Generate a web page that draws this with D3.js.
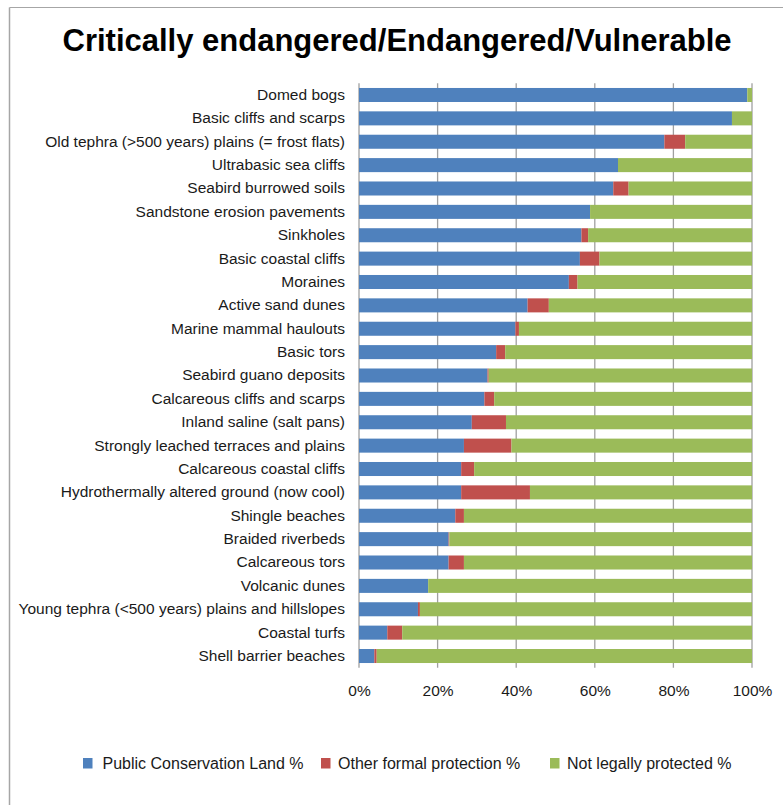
<!DOCTYPE html>
<html>
<head>
<meta charset="utf-8">
<script src="https://cdn.jsdelivr.net/npm/d3@7"></script>
<style>
  html, body { margin: 0; padding: 0; background: #fff; }
  svg { display: block; font-family: "Liberation Sans", Arial, Helvetica, sans-serif; }
</style>
</head>
<body>
<svg id="chart" width="783" height="805"></svg>
<script>
// Ecosystem categories, top to bottom
const categories = [
  "Domed bogs",
  "Basic cliffs and scarps",
  "Old tephra (>500 years) plains (= frost flats)",
  "Ultrabasic sea cliffs",
  "Seabird burrowed soils",
  "Sandstone erosion pavements",
  "Sinkholes",
  "Basic coastal cliffs",
  "Moraines",
  "Active sand dunes",
  "Marine mammal haulouts",
  "Basic tors",
  "Seabird guano deposits",
  "Calcareous cliffs and scarps",
  "Inland saline (salt pans)",
  "Strongly leached terraces and plains",
  "Calcareous coastal cliffs",
  "Hydrothermally altered ground (now cool)",
  "Shingle beaches",
  "Braided riverbeds",
  "Calcareous tors",
  "Volcanic dunes",
  "Young tephra (<500 years) plains and hillslopes",
  "Coastal turfs",
  "Shell barrier beaches"
];

// Share of each ecosystem's extent (%)
const publicConservation = [98.8, 94.9, 77.7, 65.9, 64.7, 58.8, 56.6, 56.2, 53.4, 42.9, 39.8, 34.9, 32.7, 31.9, 28.7, 26.7, 26.0, 26.0, 24.5, 22.8, 22.8, 17.6, 15.0, 7.2, 3.9];
const otherFormal        = [0.0, 0.0, 5.3, 0.0, 3.9, 0.0, 1.7, 5.0, 2.2, 5.4, 0.9, 2.3, 0.3, 2.5, 8.7, 12.1, 3.3, 17.5, 2.2, 0.2, 3.9, 0.0, 0.5, 3.8, 0.6];
const notProtected       = publicConservation.map((v, i) => 100 - v - otherFormal[i]);

const seriesNames  = ["Public Conservation Land %", "Other formal protection %", "Not legally protected %"];
const seriesColors = ["#4f81bd", "#c0504d", "#9bbb59"];
const xTicks = [0, 20, 40, 60, 80, 100];

const svg = d3.select("#chart");

// frame lines
svg.append("line").attr("x1", 9.5).attr("x2", 783).attr("y1", 7.5).attr("y2", 7.5)
  .attr("stroke", "#a6a6a6").attr("stroke-width", 1);
svg.append("line").attr("x1", 9.5).attr("x2", 9.5).attr("y1", 7.5).attr("y2", 805)
  .attr("stroke", "#a6a6a6").attr("stroke-width", 1.5);

// title
svg.append("text")
  .attr("x", 397).attr("y", 51)
  .attr("text-anchor", "middle")
  .attr("font-size", 31).attr("font-weight", "bold")
  .attr("fill", "#000")
  .text("Critically endangered/Endangered/Vulnerable");

const margin = { left: 359, right: 752, top: 83.3, bottom: 667.7 };

const x = d3.scaleLinear().domain([0, 100]).range([margin.left, margin.right]);
const y = d3.scaleBand().domain(categories).range([margin.top, margin.bottom]).paddingInner(0.4).paddingOuter(0.2);

// grid lines
svg.append("g").selectAll("line").data(xTicks).join("line")
  .attr("x1", d => x(d) ).attr("x2", d => x(d))
  .attr("y1", margin.top).attr("y2", margin.bottom)
  .attr("stroke", "#a0a0a0").attr("stroke-width", 1.3);

// stacked data
const rows = categories.map((c, i) => ({
  cat: c,
  s0: publicConservation[i],
  s1: otherFormal[i],
  s2: notProtected[i]
}));
const stack = d3.stack().keys(["s0", "s1", "s2"]);
const layers = stack(rows);

svg.append("g").selectAll("g").data(layers).join("g")
  .attr("fill", (d, i) => seriesColors[i])
  .selectAll("rect").data(d => d).join("rect")
  .attr("x", d => x(d[0]))
  .attr("width", d => Math.max(0, x(d[1]) - x(d[0])))
  .attr("y", d => y(d.data.cat))
  .attr("height", y.bandwidth());

// category axis
const yAxis = svg.append("g")
  .attr("transform", `translate(${margin.left},0)`)
  .call(d3.axisLeft(y).tickSize(0).tickPadding(14));
yAxis.select(".domain").remove();
yAxis.selectAll("text")
  .attr("font-size", 15.5).attr("fill", "#1a1a1a")
  .attr("font-family", "'Liberation Sans', Arial, sans-serif");

// value axis
const xAxis = svg.append("g")
  .attr("transform", `translate(0,${margin.bottom})`)
  .call(d3.axisBottom(x).tickValues(xTicks).tickFormat(d => d + "%").tickSize(0).tickPadding(17));
xAxis.select(".domain").remove();
xAxis.selectAll("text")
  .attr("font-size", 15.5).attr("fill", "#1a1a1a")
  .attr("font-family", "'Liberation Sans', Arial, sans-serif");

// legend
const legendX = [83, 321, 550];
const legend = svg.append("g").selectAll("g").data(seriesNames).join("g")
  .attr("transform", (d, i) => `translate(${legendX[i]},758)`);
legend.append("rect").attr("width", 9.5).attr("height", 10.5)
  .attr("fill", (d, i) => seriesColors[i]);
legend.append("text")
  .attr("x", (d, i) => i === 0 ? 19.5 : 17)
  .attr("y", 11)
  .attr("font-size", 16).attr("fill", "#1a1a1a")
  .text(d => d);
</script>
</body>
</html>
